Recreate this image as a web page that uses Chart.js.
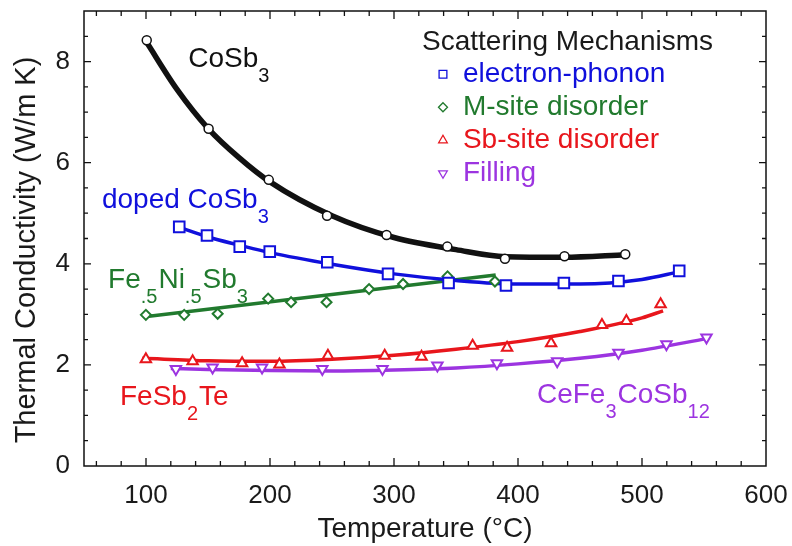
<!DOCTYPE html>
<html>
<head>
<meta charset="utf-8">
<script src="https://cdn.jsdelivr.net/npm/chart.js@4.4.1/dist/chart.umd.min.js"></script>
<style>
  html, body { margin: 0; padding: 0; background: #fff; }
</style>
</head>
<body>
<canvas id="chart" width="792" height="546"></canvas>
<script>
// Thermal conductivity vs temperature

const xTicks = [100, 200, 300, 400, 500, 600];
const yTicks = [0, 2, 4, 6, 8];

// measured points [T (C), kappa (W/m K)]
const coSb3 = [[100.6, 8.42], [150.5, 6.67], [199, 5.66], [246, 4.95], [294, 4.57], [343, 4.34], [389.5, 4.10], [437.5, 4.15], [486.5, 4.19]];
const electronPhonon = [[126.8, 4.73], [149.2, 4.56], [175.6, 4.34], [199.8, 4.24], [246.2, 4.03], [295.2, 3.80], [344, 3.62], [390.3, 3.57], [437, 3.62], [481, 3.66], [530, 3.86]];
const mSite = [[99.9, 2.99], [130.8, 2.99], [157.8, 3.01], [198.5, 3.31], [217, 3.24], [245.6, 3.24], [279.9, 3.50], [307.3, 3.60], [343.2, 3.75], [381.4, 3.65]];
const sbSite = [[99.9, 2.11], [137.6, 2.07], [177.5, 2.03], [207.6, 2.01], [246.7, 2.18], [292.5, 2.18], [322.2, 2.16], [363.4, 2.38], [391.2, 2.34], [426.7, 2.43], [467.7, 2.79], [487.4, 2.87], [515, 3.20]];
const filling = [[124.1, 1.92], [153.7, 1.95], [193.6, 1.95], [242.2, 1.92], [290.7, 1.92], [335, 1.99], [383, 2.03], [431.6, 2.07], [481, 2.24], [519.7, 2.41], [552, 2.54]];

// fitted curves
const coSb3Fit = [[100, 8.40], [125, 7.45], [150, 6.68], [175, 6.10], [200, 5.62], [250, 4.95], [300, 4.52], [350, 4.28], [390, 4.14], [437, 4.13], [487, 4.18]];
const electronPhononFit = [[127, 4.72], [150, 4.53], [175, 4.37], [200, 4.22], [250, 3.99], [300, 3.80], [350, 3.67], [400, 3.60], [450, 3.60], [500, 3.69], [530, 3.84]];
const mSiteFit = [[99, 2.95], [382, 3.78]];
const sbSiteFit = [[97, 2.13], [150, 2.08], [200, 2.07], [250, 2.11], [300, 2.19], [350, 2.31], [400, 2.46], [450, 2.66], [500, 2.93], [517, 3.07]];
const fillingFit = [[120, 1.93], [150, 1.91], [200, 1.89], [250, 1.88], [300, 1.90], [350, 1.94], [400, 2.02], [450, 2.13], [500, 2.29], [552, 2.52]];

const BLACK = '#111111';
const BLUE = '#1010dc';
const GREEN = '#217a2e';
const RED = '#e8161c';
const PURPLE = '#9c34e0';
const FONT = "'Liberation Sans', Arial, Helvetica, sans-serif";

const pts = arr => arr.map(([x, y]) => ({ x, y }));

function fitLine(data, color, width) {
    return {
        data: pts(data),
        showLine: true,
        borderColor: color,
        borderWidth: width,
        pointRadius: 0,
        cubicInterpolationMode: 'monotone',
        fill: false,
        order: 2
    };
}

function markers(data, color, style, radius, rotation, bw) {
    return {
        data: pts(data),
        showLine: false,
        pointStyle: style,
        pointRadius: radius,
        pointRotation: rotation || 0,
        pointBorderColor: color,
        pointBackgroundColor: '#ffffff',
        pointBorderWidth: bw || 2,
        order: 1
    };
}

// labels on the plot: [text, isSubscript]
const labels = [
    { at: [134, 7.89], color: BLACK, parts: [['CoSb', 0], ['3', 1]] },
    { at: [64.5, 5.10], color: BLUE, parts: [['doped CoSb', 0], ['3', 1]] },
    { at: [69.4, 3.52], color: GREEN, parts: [['Fe', 0], ['.5', 1], ['Ni', 0], ['.5', 1], ['Sb', 0], ['3', 1]] },
    { at: [79, 1.21], color: RED, parts: [['FeSb', 0], ['2', 1], ['Te', 0]] },
    { at: [415.3, 1.25], color: PURPLE, parts: [['CeFe', 0], ['3', 1], ['CoSb', 0], ['12', 1]] }
];

const yTitle = 'Thermal Conductivity (W/m K)';
const legendTitle = 'Scattering Mechanisms';
const legendItems = [
    { text: 'electron-phonon', color: BLUE, style: 'rect', radius: 5.5, rotation: 0 },
    { text: 'M-site disorder', color: GREEN, style: 'rectRot', radius: 4.5, rotation: 0 },
    { text: 'Sb-site disorder', color: RED, style: 'triangle', radius: 5, rotation: 0 },
    { text: 'Filling', color: PURPLE, style: 'triangle', radius: 5, rotation: 180 }
];

function drawParts(ctx, parts, x, y, color) {
    ctx.fillStyle = color;
    ctx.textBaseline = 'alphabetic';
    ctx.textAlign = 'left';
    parts.forEach(([t, sub]) => {
        ctx.font = (sub ? '20px ' : '28px ') + FONT;
        ctx.fillText(t, x, sub ? y + 15 : y);
        x += ctx.measureText(t).width + (sub ? 1 : 0);
    });
}

const framePlugin = {
    id: 'frame',
    afterDatasetsDraw(chart) {
        const { ctx, chartArea: a, scales: { x, y } } = chart;
        ctx.save();
        ctx.strokeStyle = '#111';
        ctx.lineWidth = 1.5;
        ctx.strokeRect(a.left, a.top, a.right - a.left, a.bottom - a.top);

        ctx.lineWidth = 1.3;
        ctx.beginPath();
        for (let v = 60; v < 600; v += 20) {
            const px = x.getPixelForValue(v);
            const len = v % 100 === 0 ? 8 : 5;
            ctx.moveTo(px, a.bottom); ctx.lineTo(px, a.bottom - len);
            ctx.moveTo(px, a.top); ctx.lineTo(px, a.top + len);
        }
        for (let v = 0.5; v < 9; v += 0.5) {
            const py = y.getPixelForValue(v);
            const len = v % 2 === 0 ? 7 : 4;
            ctx.moveTo(a.left, py); ctx.lineTo(a.left + len, py);
            ctx.moveTo(a.right, py); ctx.lineTo(a.right - len, py);
        }
        ctx.stroke();

        // y axis title, a little below the plot centre as in the figure
        ctx.save();
        ctx.translate(27, 250);
        ctx.rotate(-Math.PI / 2);
        ctx.fillStyle = '#1a1a1a';
        ctx.font = '29px ' + FONT;
        ctx.textAlign = 'center';
        ctx.textBaseline = 'middle';
        ctx.fillText(yTitle, 0, 0);
        ctx.restore();

        labels.forEach(l => {
            drawParts(ctx, l.parts, x.getPixelForValue(l.at[0]), y.getPixelForValue(l.at[1]), l.color);
        });

        // legend (no frame)
        ctx.textAlign = 'left';
        ctx.textBaseline = 'alphabetic';
        ctx.fillStyle = '#1a1a1a';
        ctx.font = '28px ' + FONT;
        ctx.fillText(legendTitle, x.getPixelForValue(322.6), y.getPixelForValue(8.23));
        const mx = x.getPixelForValue(339.5);
        const tx = x.getPixelForValue(355.6);
        legendItems.forEach((it, i) => {
            const base = y.getPixelForValue(7.59) + i * 33;
            ctx.strokeStyle = it.color;
            ctx.fillStyle = '#ffffff';
            Chart.helpers.drawPoint(ctx, { pointStyle: it.style, radius: it.radius, rotation: it.rotation, borderWidth: 2.5 }, mx, base - 8);
            ctx.fillStyle = it.color;
            ctx.font = '28px ' + FONT;
            ctx.fillText(it.text, tx, base);
        });
        ctx.restore();
    }
};

new Chart(document.getElementById('chart'), {
    type: 'scatter',
    data: {
        datasets: [
            markers(coSb3, BLACK, 'circle', 4.5, 0, 1.5),
            markers(electronPhonon, BLUE, 'rect', 7.5),
            markers(mSite, GREEN, 'rectRot', 5),
            markers(sbSite, RED, 'triangle', 6),
            markers(filling, PURPLE, 'triangle', 6, 180),
            fitLine(coSb3Fit, BLACK, 5.5),
            fitLine(electronPhononFit, BLUE, 3.5),
            fitLine(mSiteFit, GREEN, 3.5),
            fitLine(sbSiteFit, RED, 3.5),
            fitLine(fillingFit, PURPLE, 3.5)
        ]
    },
    options: {
        responsive: false,
        animation: false,
        layout: { padding: { left: 0, right: 26, top: 11, bottom: 0 } },
        plugins: {
            legend: { display: false },
            tooltip: { enabled: false }
        },
        scales: {
            x: {
                type: 'linear',
                min: 50,
                max: 600,
                grid: { display: false, drawTicks: false },
                border: { display: false },
                afterBuildTicks: s => { s.ticks = xTicks.map(v => ({ value: v })); },
                afterFit: s => { s.height = 80; s.paddingLeft = 0; s.paddingRight = 0; },
                ticks: {
                    color: '#1a1a1a',
                    padding: 14,
                    maxRotation: 0,
                    font: { family: FONT, size: 26 },
                    callback: v => String(v)
                },
                title: {
                    display: true,
                    text: 'Temperature (°C)',
                    color: '#1a1a1a',
                    font: { family: FONT, size: 28 },
                    padding: { top: 0, bottom: 0 }
                }
            },
            y: {
                type: 'linear',
                min: 0,
                max: 9,
                grid: { display: false, drawTicks: false },
                border: { display: false },
                afterBuildTicks: s => { s.ticks = yTicks.map(v => ({ value: v })); },
                afterFit: s => { s.width = 84; s.paddingTop = 0; s.paddingBottom = 0; },
                ticks: {
                    color: '#1a1a1a',
                    padding: 14,
                    font: { family: FONT, size: 26 },
                    callback: v => String(v)
                }
            }
        }
    },
    plugins: [framePlugin]
});
</script>
</body>
</html>
